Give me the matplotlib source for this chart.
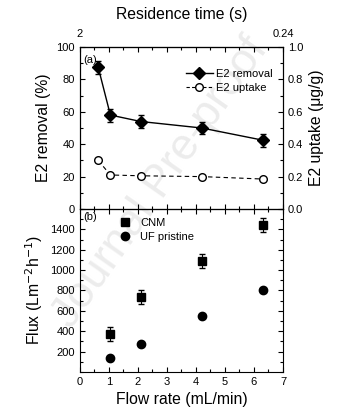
import matplotlib.pyplot as plt
from matplotlib.ticker import MultipleLocator
from matplotlib.lines import Line2D

plt.rcParams['font.family'] = ['Liberation Sans', 'DejaVu Sans']
plt.rcParams['font.size'] = 8

# panel (a)
flow_a = [0.63, 1.05, 2.1, 4.2, 6.3]
removal = [87.5, 58, 54, 50, 42.5]
removal_err = [4, 4, 4, 4, 4]
uptake = [0.30, 0.21, 0.205, 0.20, 0.185]
uptake_err = [0.01, 0.008, 0.008, 0.008, 0.008]

# panel (b)
flow_b = [1.05, 2.1, 4.2, 6.3]
flux_cnm = [370, 735, 1090, 1440]
flux_cnm_err = [70, 70, 70, 70]
flux_uf = [135, 270, 545, 800]
flux_uf_err = [15, 15, 15, 15]

res_ticks = [0, 7]
res_labels = ['2', '0.24']

fig = plt.figure(figsize=(3.43, 4.16), dpi=100)
ax1 = fig.add_axes([0.233, 0.4976, 0.592, 0.3894])
ax2 = fig.add_axes([0.233, 0.106, 0.592, 0.3916])

# faint watermark behind everything
fig.text(0.47, 0.56, 'Journal Pre-proof', rotation=55, fontsize=32,
         color='#ececec', ha='center', va='center', zorder=-5)

def style(ax):
    ax.set_xlim(0, 7)
    ax.xaxis.set_major_locator(MultipleLocator(1))
    ax.xaxis.set_minor_locator(MultipleLocator(0.5))
    ax.tick_params(which='both', direction='in', top=True, right=True, width=0.8)
    ax.tick_params(which='major', length=3.5)
    ax.tick_params(which='minor', length=2)
    ax.patch.set_alpha(0)

style(ax1)
style(ax2)

ax1.errorbar(flow_a, removal, yerr=removal_err, fmt='-D', color='black',
             ms=6, lw=1, capsize=2.5, elinewidth=0.8)
ax1.set_ylim(0, 100)
ax1.yaxis.set_major_locator(MultipleLocator(20))
ax1.yaxis.set_minor_locator(MultipleLocator(10))
ax1.set_ylabel('E2 removal (%)', fontsize=11.3)
ax1.tick_params(labelbottom=False, right=False)

ax1r = ax1.twinx()
ax1r.patch.set_alpha(0)
ax1r.errorbar(flow_a, uptake, yerr=uptake_err, fmt='--o', color='black',
              mfc='white', ms=5.5, lw=0.8, capsize=2, elinewidth=0.8,
              dashes=(4, 3))
ax1r.set_ylim(0, 1.0)
ax1r.yaxis.set_major_locator(MultipleLocator(0.2))
ax1r.yaxis.set_minor_locator(MultipleLocator(0.1))
ax1r.yaxis.set_major_formatter(plt.FormatStrFormatter('%.1f'))
ax1r.tick_params(which='both', direction='in', width=0.8)
ax1r.tick_params(which='major', length=3.5)
ax1r.tick_params(which='minor', length=2)
ax1r.set_ylabel('E2 uptake (μg/g)', fontsize=11.3)

axt = ax1.secondary_xaxis('top')
axt.set_ticks(res_ticks)
axt.set_xticklabels(res_labels)
axt.tick_params(direction='in', length=0, pad=6)
axt.set_xlabel('Residence time (s)', fontsize=11.3, labelpad=7)

ax1.text(0.12, 95, '(a)', fontsize=8, va='top')

h1 = Line2D([], [], color='black', marker='D', ms=6, lw=1)
h2 = Line2D([], [], color='black', marker='o', mfc='white', ms=5.5, lw=0.8,
            ls=(0, (3, 2)))
ax1.legend([h1, h2], ['E2 removal', 'E2 uptake'], loc='upper right',
           bbox_to_anchor=(0.985, 0.91), frameon=False, fontsize=8,
           handlelength=2.5, handletextpad=0.2, labelspacing=0.3,
           borderpad=0.2)

ax2.errorbar(flow_b, flux_cnm, yerr=flux_cnm_err, fmt='s', color='black',
             ms=5.5, capsize=2.5, elinewidth=0.8)
ax2.errorbar(flow_b, flux_uf, yerr=flux_uf_err, fmt='o', color='black',
             ms=6, capsize=2.5, elinewidth=0.8)
ax2.set_ylim(0, 1600)
ax2.set_yticks([200, 400, 600, 800, 1000, 1200, 1400])
ax2.yaxis.set_minor_locator(MultipleLocator(100))
ax2.set_ylabel('Flux (Lm$^{-2}$h$^{-1}$)', fontsize=11.3)
ax2.set_xlabel('Flow rate (mL/min)', fontsize=11.3)
ax2.text(0.12, 1570, '(b)', fontsize=8, va='top')
h3 = Line2D([], [], color='black', marker='s', ms=5.5, lw=0)
h4 = Line2D([], [], color='black', marker='o', ms=6, lw=0)
ax2.legend([h3, h4], ['CNM', 'UF pristine'], loc='upper left',
           bbox_to_anchor=(0.15, 1.0), frameon=False, fontsize=8,
           handlelength=1.0, handletextpad=0.9, labelspacing=0.35,
           borderpad=0.3)

fig.savefig('out.png', dpi=100)
